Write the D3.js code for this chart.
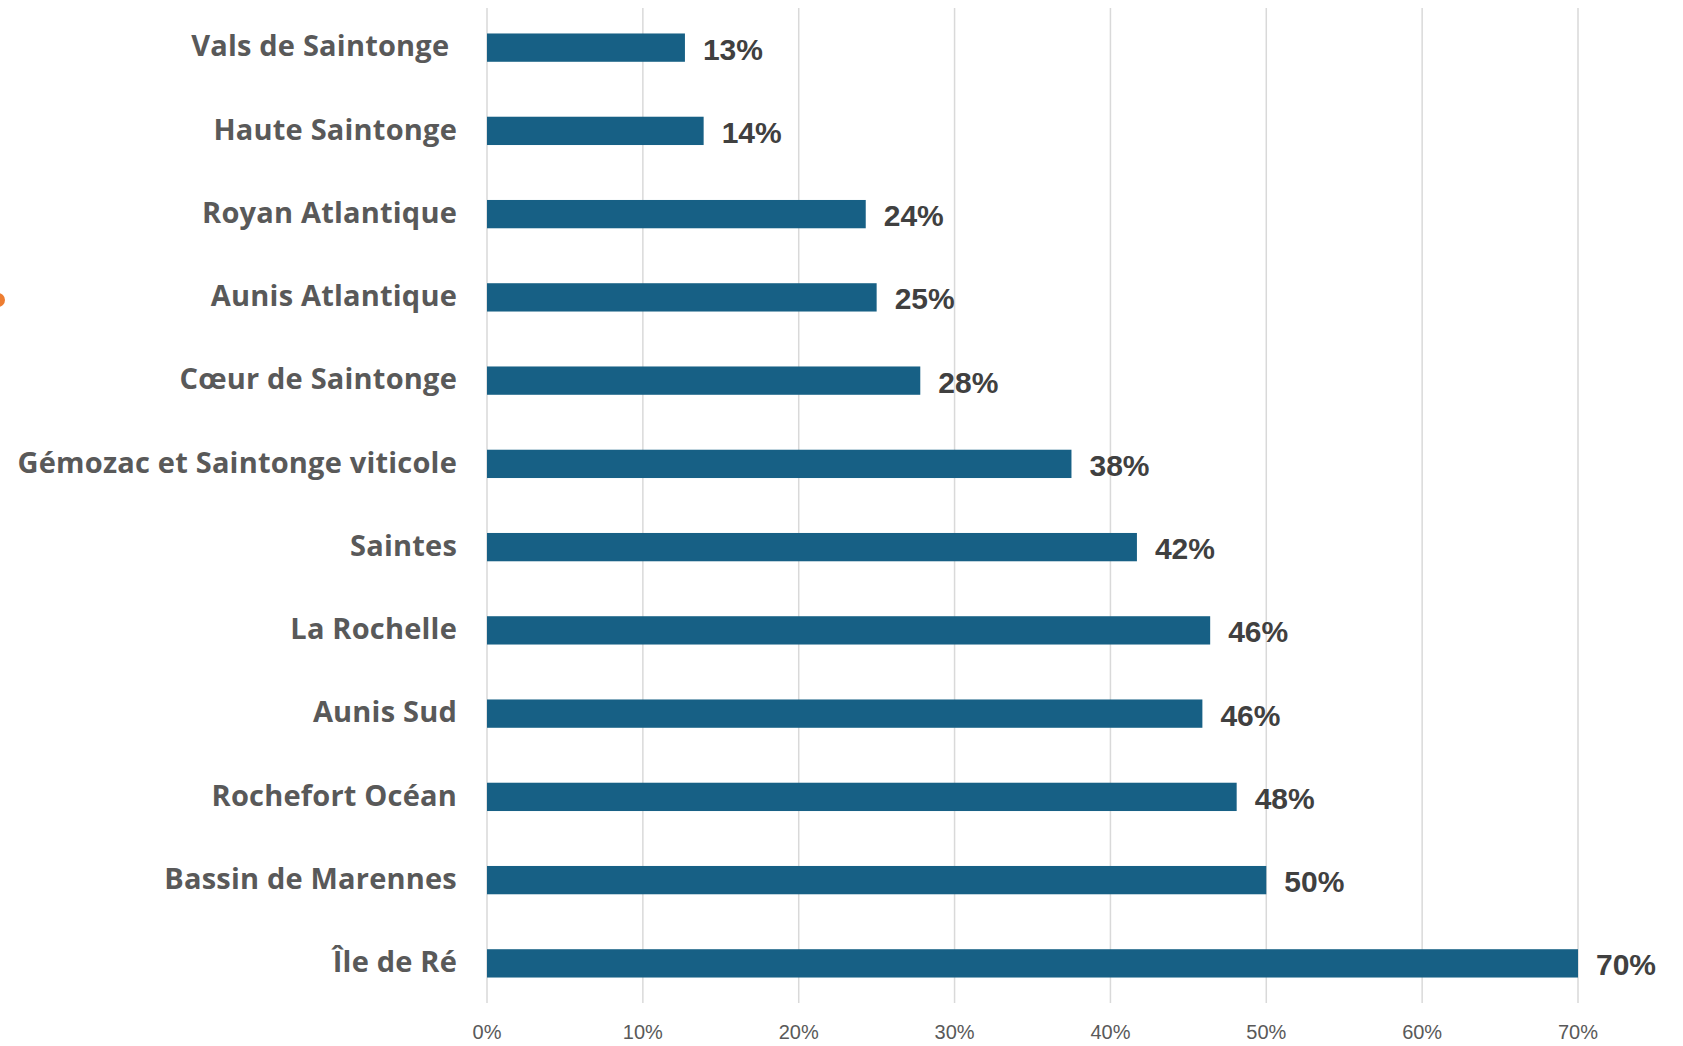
<!DOCTYPE html>
<html>
<head>
<meta charset="utf-8">
<script src="https://cdn.jsdelivr.net/npm/d3@7"></script>
<style>
  body { margin: 0; background: #fff; }
  svg { display: block; }
</style>
</head>
<body>
<div id="chart"></div>
<script>
// categories, top to bottom (first one carries a trailing space in the source)
const territoires = [
    "Vals de Saintonge\u00a0", "Haute Saintonge", "Royan Atlantique", "Aunis Atlantique",
    "Cœur de Saintonge", "Gémozac et Saintonge viticole", "Saintes", "La Rochelle",
    "Aunis Sud", "Rochefort Océan", "Bassin de Marennes", "Île de Ré"
];
// share in percent
const parts = [12.7, 13.9, 24.3, 25.0, 27.8, 37.5, 41.7, 46.4, 45.9, 48.1, 50.0, 70.0];
// x axis ticks
const xTicks = [0, 10, 20, 30, 40, 50, 60, 70];

const W = 1683, H = 1046;
const margin = {top: 6, right: 105, bottom: 41, left: 487};

const data = territoires.map((t, i) => ({name: t, value: parts[i]}));

const svg = d3.select("#chart")
    .append("svg")
    .attr("width", W)
    .attr("height", H);

const x = d3.scaleLinear()
    .domain([0, 70])
    .range([margin.left, W - margin.right]);

const y = d3.scaleBand()
    .domain(territoires)
    .range([margin.top, H - margin.bottom])
    .paddingInner(0.66)
    .paddingOuter(0.33);

// gridlines
svg.append("g")
    .selectAll("line")
    .data(xTicks)
    .join("line")
    .attr("x1", d => x(d))
    .attr("x2", d => x(d))
    .attr("y1", margin.top + 2)
    .attr("y2", H - margin.bottom - 2)
    .attr("stroke", "#d9d9d9")
    .attr("stroke-width", 1.5);

// x tick labels
svg.append("g")
    .selectAll("text")
    .data(xTicks)
    .join("text")
    .attr("x", d => x(d))
    .attr("y", 1034)
    .attr("text-anchor", "middle")
    .attr("dominant-baseline", "middle")
    .attr("font-family", "'Liberation Sans Narrow', 'Liberation Sans', sans-serif")
    .attr("font-size", 20)
    .attr("fill", "#595959")
    .text(d => d + "%");

// bars
svg.append("g")
    .selectAll("rect")
    .data(data)
    .join("rect")
    .attr("x", x(0))
    .attr("y", d => y(d.name))
    .attr("width", d => x(d.value) - x(0))
    .attr("height", y.bandwidth())
    .attr("fill", "#176085");

// value labels
svg.append("g")
    .selectAll("text")
    .data(data)
    .join("text")
    .attr("x", d => x(d.value) + 18)
    .attr("y", d => y(d.name) + y.bandwidth() / 2 + 4)
    .attr("dominant-baseline", "middle")
    .attr("font-family", "'Liberation Sans Narrow', 'Liberation Sans', sans-serif")
    .attr("font-weight", "bold")
    .attr("font-size", 30)
    .attr("fill", "#404040")
    .text(d => Math.round(d.value) + "%");

// category labels
svg.append("g")
    .selectAll("text")
    .data(data)
    .join("text")
    .attr("x", margin.left - 30)
    .attr("y", d => y(d.name) + y.bandwidth() / 2 + 1)
    .attr("text-anchor", "end")
    .attr("dominant-baseline", "middle")
    .attr("font-family", "'Open Sans', Lato, sans-serif")
    .attr("font-weight", "bold")
    .attr("font-size", 29)
    .attr("letter-spacing", 0.2)
    .attr("fill", "#595959")
    .text(d => d.name);

// little orange shape cut at the left edge
svg.append("circle")
    .attr("cx", -2)
    .attr("cy", 300)
    .attr("r", 7)
    .attr("fill", "#ed7d31");
</script>
</body>
</html>
